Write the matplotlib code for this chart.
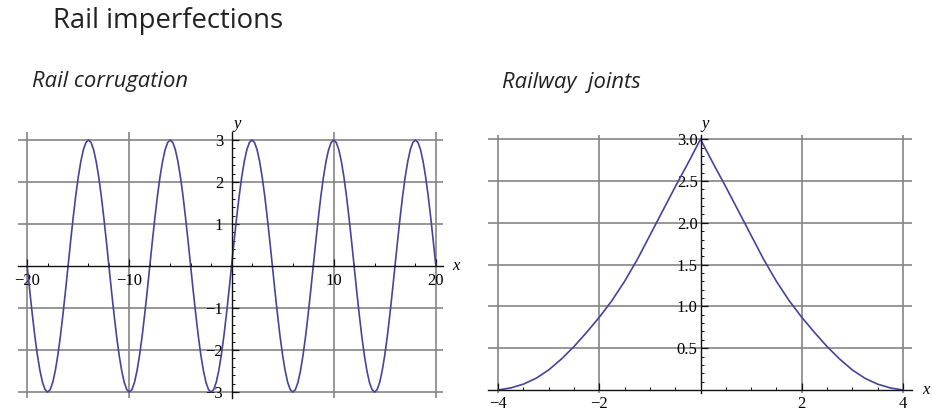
import numpy as np
import matplotlib
matplotlib.use("Agg")
import matplotlib.pyplot as plt
from matplotlib.ticker import MultipleLocator, FixedLocator

# Rail corrugation: vertical profile y sampled every 0.25 along x (one row per wavelength)
corr_x = np.arange(-20, 20.001, 0.25)
corr_y = [
    0, -0.59, -1.15, -1.67, -2.12, -2.49, -2.77, -2.94, -3.00, -2.94, -2.77, -2.49, -2.12, -1.67, -1.15, -0.59,
    0, 0.59, 1.15, 1.67, 2.12, 2.49, 2.77, 2.94, 3.00, 2.94, 2.77, 2.49, 2.12, 1.67, 1.15, 0.59,
    0, -0.59, -1.15, -1.67, -2.12, -2.49, -2.77, -2.94, -3.00, -2.94, -2.77, -2.49, -2.12, -1.67, -1.15, -0.59,
    0, 0.59, 1.15, 1.67, 2.12, 2.49, 2.77, 2.94, 3.00, 2.94, 2.77, 2.49, 2.12, 1.67, 1.15, 0.59,
    0, -0.59, -1.15, -1.67, -2.12, -2.49, -2.77, -2.94, -3.00, -2.94, -2.77, -2.49, -2.12, -1.67, -1.15, -0.59,
    0, 0.59, 1.15, 1.67, 2.12, 2.49, 2.77, 2.94, 3.00, 2.94, 2.77, 2.49, 2.12, 1.67, 1.15, 0.59,
    0, -0.59, -1.15, -1.67, -2.12, -2.49, -2.77, -2.94, -3.00, -2.94, -2.77, -2.49, -2.12, -1.67, -1.15, -0.59,
    0, 0.59, 1.15, 1.67, 2.12, 2.49, 2.77, 2.94, 3.00, 2.94, 2.77, 2.49, 2.12, 1.67, 1.15, 0.59,
    0, -0.59, -1.15, -1.67, -2.12, -2.49, -2.77, -2.94, -3.00, -2.94, -2.77, -2.49, -2.12, -1.67, -1.15, -0.59,
    0, 0.59, 1.15, 1.67, 2.12, 2.49, 2.77, 2.94, 3.00, 2.94, 2.77, 2.49, 2.12, 1.67, 1.15, 0.59,
    0,
]

# Railway joint: bump profile sampled every 0.25 along x
joint_x = np.arange(-4, 4.001, 0.25)
joint_y = [
    0, 0.025, 0.07, 0.14, 0.24, 0.37, 0.52, 0.69, 0.87, 1.07, 1.30, 1.56, 1.85, 2.14, 2.43, 2.71,
    3.0,
    2.71, 2.43, 2.14, 1.85, 1.56, 1.30, 1.07, 0.87, 0.69, 0.52, 0.37, 0.24, 0.14, 0.07, 0.025, 0,
]

corr_xticks = [-20, -10, 10, 20]
corr_yticks = [-3, -2, -1, 1, 2, 3]
joint_xticks = [-4, -2, 2, 4]
joint_yticks = [0.5, 1.0, 1.5, 2.0, 2.5, 3.0]

LINE = "#44449a"
GRID = "#858585"
SERIF = ["Liberation Serif", "DejaVu Serif"]

fig = plt.figure(figsize=(9.32, 4.17), dpi=100)
fig.patch.set_facecolor("white")


def style_axes(ax, xlim, ylim, xgrid, ygrid, xticks, yticks, xminor, yminor, yfmt):
    ax.set_xlim(*xlim)
    ax.set_ylim(*ylim)
    for s in ("top", "right"):
        ax.spines[s].set_visible(False)
    ax.spines["left"].set_position(("data", 0))
    ax.spines["bottom"].set_position(("data", 0))
    for s in ("left", "bottom"):
        ax.spines[s].set_linewidth(1.0)
        ax.spines[s].set_color("#111111")
    for g in xgrid:
        ax.axvline(g, color=GRID, lw=1.2, zorder=0.5)
    for g in ygrid:
        ax.axhline(g, color=GRID, lw=1.2, zorder=0.5)
    ax.xaxis.set_major_locator(FixedLocator(xticks))
    ax.yaxis.set_major_locator(FixedLocator(yticks))
    ax.xaxis.set_minor_locator(MultipleLocator(xminor))
    ax.yaxis.set_minor_locator(MultipleLocator(yminor))
    ax.set_xticklabels([f"{t:g}".replace("-", "\u2212") for t in xticks],
                       family=SERIF, fontsize=12)
    ax.set_yticklabels([yfmt(t).replace("-", "\u2212") for t in yticks],
                       family=SERIF, fontsize=12)
    ax.tick_params(which="major", direction="in", length=5, width=0.9, color="#111111", pad=3)
    ax.tick_params(which="minor", direction="in", length=2.5, width=0.7, color="#111111")
    ax.set_facecolor("white")


# Left panel: corrugation
ax1 = fig.add_axes([18 / 932, 1 - 398 / 417, 425 / 932, 266 / 417])
ax1.plot(corr_x, corr_y, color=LINE, lw=1.2, zorder=2)
style_axes(ax1, (-20.9, 20.7), (-3.14, 3.19), [-20, -10, 10, 20], [-3, -2, -1, 1, 2, 3],
           corr_xticks, corr_yticks, 2, 0.2, lambda t: f"{t:g}")
ax1.tick_params(axis="x", pad=5)
ax1.tick_params(axis="y", pad=6)
ax1.text(0.5, 3.19, "y", family=SERIF, style="italic", fontsize=12, ha="center", va="bottom")
ax1.text(21.6, 0, "x", family=SERIF, style="italic", fontsize=12, ha="left", va="center")

# Right panel: railway joint
ax2 = fig.add_axes([488 / 932, 1 - 393 / 417, 424 / 932, 258 / 417])
ax2.plot(joint_x, joint_y, color=LINE, lw=1.2, zorder=2)
style_axes(ax2, (-4.2, 4.18), (-0.036, 3.05), [-4, -2, 2, 4], [0.5, 1.0, 1.5, 2.0, 2.5, 3.0],
           joint_xticks, joint_yticks, 0.5, 0.1, lambda t: f"{t:.1f}")
ax2.tick_params(axis="x", pad=4)
ax2.tick_params(axis="y", pad=2)
ax2.text(0.1, 3.08, "y", family=SERIF, style="italic", fontsize=12, ha="center", va="bottom")
ax2.text(4.38, 0, "x", family=SERIF, style="italic", fontsize=12, ha="left", va="center")

# Headings
fig.text(53 / 932, 1 - 28 / 417, "Rail imperfections", family="Open Sans",
         fontsize=19.8, color="#222222", va="baseline", ha="left")
fig.text(32 / 932, 1 - 87 / 417, "Rail corrugation", family="Open Sans",
         style="italic", fontsize=15.8, color="#222222", va="baseline", ha="left")
fig.text(502 / 932, 1 - 88 / 417, "Railway  joints", family="Open Sans",
         style="italic", fontsize=15.8, color="#222222", va="baseline", ha="left")

fig.savefig("out.png", dpi=100, facecolor="white")
